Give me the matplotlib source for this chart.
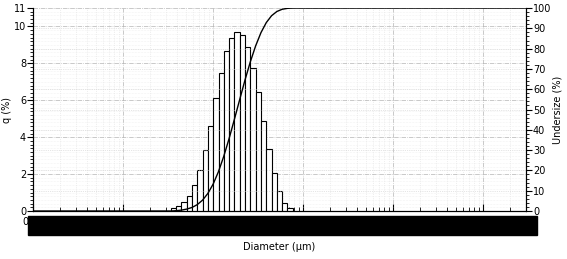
import numpy as np
import matplotlib.pyplot as plt
from matplotlib.ticker import MultipleLocator, LogLocator, NullFormatter
from matplotlib.patches import Rectangle

# bin edges (um) of the channels that carry data
edges = [0.339, 0.389, 0.445, 0.510, 0.584, 0.669, 0.766, 0.877, 1.005, 1.151,
         1.318, 1.510, 1.729, 1.981, 2.269, 2.599, 2.976, 3.409, 3.905, 4.472,
         5.122, 5.867, 6.720, 7.697]
# frequency q (%) per channel
q = [0.15, 0.28, 0.5, 0.8, 1.4, 2.2, 3.28, 4.6, 6.1, 7.5, 8.65, 9.4, 9.68,
     9.55, 8.87, 7.76, 6.45, 4.9, 3.37, 2.06, 1.09, 0.45, 0.15]
xticks = [0.01, 0.1, 1, 10, 100, 1000]
xlabels = ['0.01', '0.1', '1', '10', '100', '1000']

plt.rcParams['font.family'] = 'DejaVu Sans'
fig = plt.figure(figsize=(5.67, 2.59), dpi=100)
ax = fig.add_axes([0.0582, 0.1853, 0.8695, 0.7837])

ax.set_xscale('log')
ax.set_xlim(0.01, 3000)
ax.set_ylim(0, 11)

e = np.array(edges)
ax.bar(e[:-1], q, width=np.diff(e), align='edge', color='white',
       edgecolor='black', linewidth=0.8, zorder=3)

# cumulative undersize curve on the right axis
cum = np.concatenate([[0], np.cumsum(q)]) / sum(q) * 100
ax2 = ax.twinx()
ax2.set_ylim(0, 100)
ax2.plot(np.concatenate([[0.01], e, [3000]]),
         np.concatenate([[0], cum, [100]]), color='black', lw=1, zorder=4)

ax.set_xticks(xticks)
ax.set_xticklabels(xlabels, fontsize=7)
ax.xaxis.set_minor_locator(LogLocator(base=10, subs=np.arange(2, 10)))
ax.xaxis.set_minor_formatter(NullFormatter())
ax.set_yticks([0, 2, 4, 6, 8, 10, 11])
ax.yaxis.set_minor_locator(MultipleLocator(0.2))
ax2.set_yticks(range(0, 101, 10))
ax2.yaxis.set_minor_locator(MultipleLocator(2))

ax.tick_params(axis='x', which='major', direction='in', length=5, width=0.8, labelsize=7, pad=4)
ax.tick_params(axis='x', which='minor', direction='in', length=3, width=0.6)
ax.tick_params(axis='y', which='major', length=4, width=0.8, labelsize=7, pad=1)
ax.tick_params(axis='y', which='minor', length=2, width=0.6)
ax2.tick_params(axis='y', which='major', length=4, width=0.8, labelsize=7, pad=1)
ax2.tick_params(axis='y', which='minor', length=2, width=0.6)

ax.grid(True, which='major', color='0.7', linestyle='-.', linewidth=0.5, zorder=0)
ax.grid(True, which='minor', color='0.88', linestyle=':', linewidth=0.5, zorder=0)
ax.yaxis.grid(True, which='minor', color='0.91', linestyle=':', linewidth=0.4)
ax2.grid(True, axis='y', which='major', color='0.8', linestyle=':', linewidth=0.5)

for a in (ax, ax2):
    for s in a.spines.values():
        s.set_linewidth(0.8)
ax.spines['top'].set_visible(False)
ax2.spines['top'].set_visible(False)

ax.set_ylabel('q (%)', fontsize=7, labelpad=1)
ax2.set_ylabel('Undersize (%)', fontsize=7, labelpad=1)
ax.set_xlabel('Diameter (\u00b5m)', fontsize=7, labelpad=11)

# redaction bar over the x tick labels
fig.add_artist(Rectangle((28 / 567, 1 - 235 / 259), 509 / 567, 19 / 259,
                         transform=fig.transFigure, color='black', zorder=10))

fig.savefig('out.png', dpi=100)
